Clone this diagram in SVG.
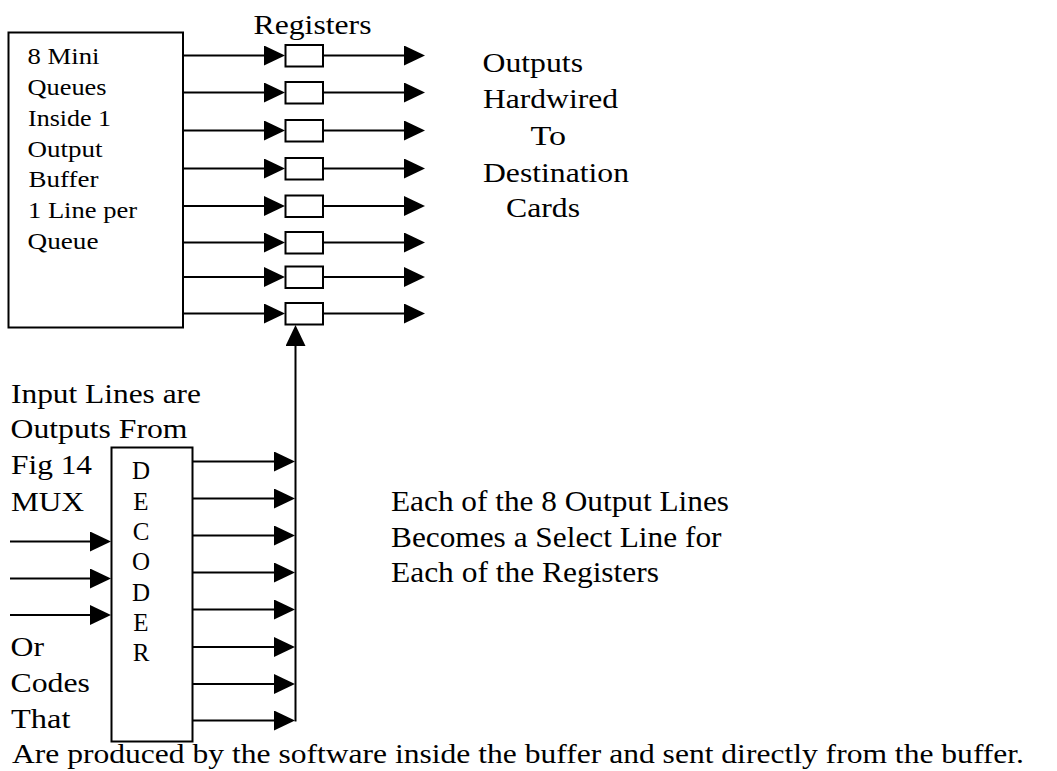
<svg xmlns="http://www.w3.org/2000/svg" width="1057" height="771" viewBox="0 0 1057 771" font-family="'Liberation Serif', Tinos, 'Times New Roman', Times, serif">
  <style>
    .box { fill: #fff; stroke: #000; stroke-width: 2; }
    .wire { fill: none; stroke: #000; stroke-width: 2; }
    text { fill: #000; }
    .t23 { font-size: 23px; }
    .t25 { font-size: 25px; }
    .t27 { font-size: 27px; }
    .t28 { font-size: 28px; }
    .t29 { font-size: 29px; }
  </style>
  <defs>
    <marker id="head" markerUnits="userSpaceOnUse" viewBox="0 0 21 20" refX="17" refY="10" markerWidth="21" markerHeight="20" orient="auto">
      <path d="M0,0 L21,10 L0,20 Z" fill="#000"/>
    </marker>
  </defs>

  <rect width="1057" height="771" fill="#fff"/>

  <!-- connectors: buffer lines, register outputs, decoder lines, select line -->
  <g id="connectors" class="wire">
    <!-- buffer queue lines into the registers -->
    <line x1="183" y1="55.5" x2="281" y2="55.5" marker-end="url(#head)"/>
    <line x1="183" y1="92.5" x2="281" y2="92.5" marker-end="url(#head)"/>
    <line x1="183" y1="130.5" x2="281" y2="130.5" marker-end="url(#head)"/>
    <line x1="183" y1="168.5" x2="281" y2="168.5" marker-end="url(#head)"/>
    <line x1="183" y1="206" x2="281" y2="206" marker-end="url(#head)"/>
    <line x1="183" y1="242.5" x2="281" y2="242.5" marker-end="url(#head)"/>
    <line x1="183" y1="277" x2="281" y2="277" marker-end="url(#head)"/>
    <line x1="183" y1="313.5" x2="281" y2="313.5" marker-end="url(#head)"/>
    <!-- register outputs -->
    <line x1="323" y1="55.5" x2="421" y2="55.5" marker-end="url(#head)"/>
    <line x1="323" y1="92.5" x2="421" y2="92.5" marker-end="url(#head)"/>
    <line x1="323" y1="130.5" x2="421" y2="130.5" marker-end="url(#head)"/>
    <line x1="323" y1="168.5" x2="421" y2="168.5" marker-end="url(#head)"/>
    <line x1="323" y1="206" x2="421" y2="206" marker-end="url(#head)"/>
    <line x1="323" y1="242.5" x2="421" y2="242.5" marker-end="url(#head)"/>
    <line x1="323" y1="277" x2="421" y2="277" marker-end="url(#head)"/>
    <line x1="323" y1="313.5" x2="421" y2="313.5" marker-end="url(#head)"/>
    <!-- decoder input lines -->
    <line x1="10" y1="541.5" x2="107" y2="541.5" marker-end="url(#head)"/>
    <line x1="10" y1="578.5" x2="107" y2="578.5" marker-end="url(#head)"/>
    <line x1="10" y1="615" x2="107" y2="615" marker-end="url(#head)"/>
    <!-- decoder output lines -->
    <line x1="193" y1="461.5" x2="291" y2="461.5" marker-end="url(#head)"/>
    <line x1="193" y1="498.5" x2="291" y2="498.5" marker-end="url(#head)"/>
    <line x1="193" y1="535.5" x2="291" y2="535.5" marker-end="url(#head)"/>
    <line x1="193" y1="572.5" x2="291" y2="572.5" marker-end="url(#head)"/>
    <line x1="193" y1="609.5" x2="291" y2="609.5" marker-end="url(#head)"/>
    <line x1="193" y1="647" x2="291" y2="647" marker-end="url(#head)"/>
    <line x1="193" y1="684" x2="291" y2="684" marker-end="url(#head)"/>
    <line x1="193" y1="720.5" x2="291" y2="720.5" marker-end="url(#head)"/>
    <!-- select line up to the register column -->
    <line x1="295.5" y1="721.5" x2="295.5" y2="329" marker-end="url(#head)"/>
  </g>

  <!-- output buffer -->
  <g id="buffer">
    <rect class="box" x="8.5" y="32.5" width="174.5" height="295"/>
    <text class="t23" x="27.5" y="64.3" textLength="72" lengthAdjust="spacingAndGlyphs">8 Mini</text>
    <text class="t23" x="27.5" y="95.3" textLength="79" lengthAdjust="spacingAndGlyphs">Queues</text>
    <text class="t23" x="28" y="126" textLength="83" lengthAdjust="spacingAndGlyphs">Inside 1</text>
    <text class="t23" x="27.5" y="156.7" textLength="75" lengthAdjust="spacingAndGlyphs">Output</text>
    <text class="t23" x="28.5" y="187.3" textLength="70" lengthAdjust="spacingAndGlyphs">Buffer</text>
    <text class="t23" x="28" y="218.3" textLength="109" lengthAdjust="spacingAndGlyphs">1 Line per</text>
    <text class="t23" x="27.5" y="249.3" textLength="71" lengthAdjust="spacingAndGlyphs">Queue</text>
  </g>

  <!-- register column -->
  <g id="registers">
    <text class="t28" x="253.5" y="33.5" textLength="118" lengthAdjust="spacingAndGlyphs">Registers</text>
    <rect id="reg1" class="box" x="285.5" y="45" width="37.5" height="21.5"/>
    <rect id="reg2" class="box" x="285.5" y="82" width="37.5" height="21.5"/>
    <rect id="reg3" class="box" x="285.5" y="120" width="37.5" height="21.5"/>
    <rect id="reg4" class="box" x="285.5" y="158" width="37.5" height="21.5"/>
    <rect id="reg5" class="box" x="285.5" y="195.5" width="37.5" height="21.5"/>
    <rect id="reg6" class="box" x="285.5" y="232" width="37.5" height="21.5"/>
    <rect id="reg7" class="box" x="285.5" y="266.5" width="37.5" height="21.5"/>
    <rect id="reg8" class="box" x="285.5" y="303" width="37.5" height="21.5"/>
  </g>

  <!-- destination note -->
  <g id="outputs-label" class="t28">
    <text x="482.5" y="71.7" textLength="100.5" lengthAdjust="spacingAndGlyphs">Outputs</text>
    <text x="483" y="108.3" textLength="135" lengthAdjust="spacingAndGlyphs">Hardwired</text>
    <text x="530.5" y="145" textLength="35.5" lengthAdjust="spacingAndGlyphs">To</text>
    <text x="483" y="181.7" textLength="146" lengthAdjust="spacingAndGlyphs">Destination</text>
    <text x="506" y="217.3" textLength="74" lengthAdjust="spacingAndGlyphs">Cards</text>
  </g>

  <!-- input note -->
  <g id="input-label" class="t27">
    <text x="11" y="402.7" textLength="190" lengthAdjust="spacingAndGlyphs">Input Lines are</text>
    <text x="10.5" y="438.3" textLength="177" lengthAdjust="spacingAndGlyphs">Outputs From</text>
    <text x="11" y="474.3" textLength="81" lengthAdjust="spacingAndGlyphs">Fig 14</text>
    <text x="11" y="511" textLength="73" lengthAdjust="spacingAndGlyphs">MUX</text>
    <text x="10.5" y="656" textLength="33.5" lengthAdjust="spacingAndGlyphs">Or</text>
    <text x="10.5" y="691.7" textLength="79.5" lengthAdjust="spacingAndGlyphs">Codes</text>
    <text x="11" y="728.3" textLength="59.5" lengthAdjust="spacingAndGlyphs">That</text>
  </g>

  <!-- decoder -->
  <g id="decoder">
    <rect class="box" x="111.5" y="447.5" width="81" height="294"/>
    <g class="t25" text-anchor="middle">
      <text x="141" y="479.3">D</text>
      <text x="141" y="510">E</text>
      <text x="141" y="540">C</text>
      <text x="141" y="570">O</text>
      <text x="141" y="600.7">D</text>
      <text x="141" y="630.7">E</text>
      <text x="141" y="660.7">R</text>
    </g>
  </g>

  <!-- select line note -->
  <g id="select-label" class="t29">
    <text x="391" y="511" textLength="338" lengthAdjust="spacingAndGlyphs">Each of the 8 Output Lines</text>
    <text x="391" y="546.5" textLength="330.5" lengthAdjust="spacingAndGlyphs">Becomes a Select Line for</text>
    <text x="391" y="581.5" textLength="268" lengthAdjust="spacingAndGlyphs">Each of the Registers</text>
  </g>

  <!-- footnote -->
  <g id="footnote" class="t27">
    <text x="12" y="763" textLength="1012" lengthAdjust="spacingAndGlyphs">Are produced by the software inside the buffer and sent directly from the buffer.</text>
  </g>
</svg>
